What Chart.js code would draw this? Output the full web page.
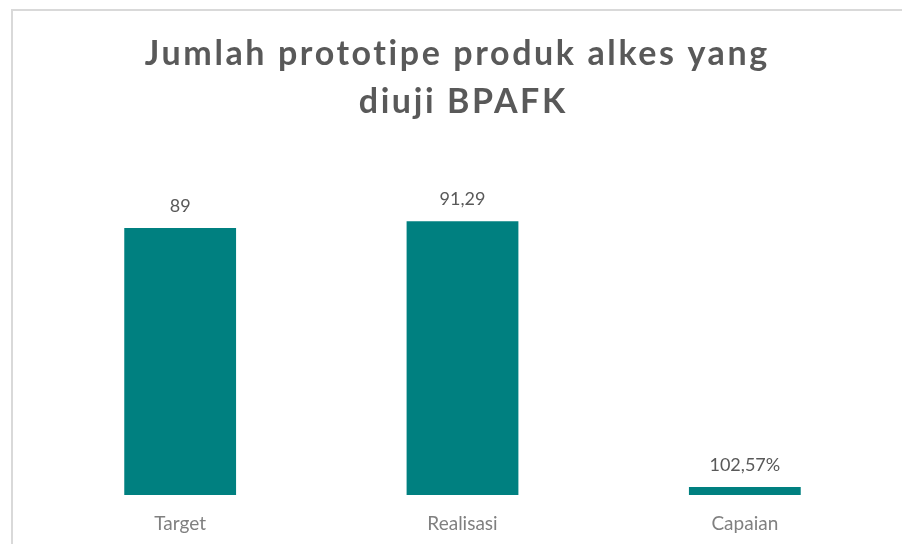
<!DOCTYPE html>
<html>
<head>
<meta charset="utf-8">
<script src="https://cdn.jsdelivr.net/npm/chart.js@4"></script>
<style>
  html, body { margin: 0; padding: 0; background: #fff; }
  #wrap { width: 902px; height: 544px; }
</style>
</head>
<body>
<div id="wrap"><canvas id="grafik"></canvas></div>
<script>
const kategori = ['Target', 'Realisasi', 'Capaian'];
const nilai = [89, 91.29, 2.65];
const labelNilai = ['89', '91,29', '102,57%'];
const judul = ['Jumlah prototipe produk alkes yang', 'diuji BPAFK'];

// bingkai abu-abu + judul dengan jarak huruf
const bingkai = {
    id: 'bingkai',
    beforeDraw(chart) {
        const c = chart.ctx;
        c.save();
        c.fillStyle = '#fff';
        c.fillRect(0, 0, chart.width, chart.height);
        c.strokeStyle = '#d9d9d9';
        c.lineWidth = 2;
        c.beginPath();
        c.moveTo(12, chart.height);
        c.lineTo(12, 10);
        c.lineTo(chart.width, 10);
        c.stroke();
        c.restore();
    },
    afterDraw(chart) {
        const c = chart.ctx;
        const spasi = 2.6;
        c.save();
        c.font = 'bold 34px Lato, "Open Sans", sans-serif';
        c.fillStyle = '#595959';
        c.textAlign = 'center';
        c.textBaseline = 'alphabetic';
        c.letterSpacing = spasi + 'px';
        c.fillText(judul[0], 456 + spasi / 2, 65);
        c.fillText(judul[1], 462 + spasi / 2, 113);
        c.restore();
    }
};

const labelAtas = {
    id: 'labelAtas',
    afterDatasetsDraw(chart) {
        const c = chart.ctx;
        const meta = chart.getDatasetMeta(0);
        c.save();
        c.font = '18px Lato, "Open Sans", sans-serif';
        c.fillStyle = '#595959';
        c.textAlign = 'center';
        c.textBaseline = 'middle';
        meta.data.forEach((bar, i) => {
            c.fillText(labelNilai[i], bar.x, bar.y - 22);
        });
        c.restore();
    }
};

new Chart(document.getElementById('grafik'), {
    type: 'bar',
    data: {
        labels: kategori,
        datasets: [{
            data: nilai,
            backgroundColor: '#008080',
            categoryPercentage: 1,
            barPercentage: 0.396
        }]
    },
    options: {
        responsive: true,
        maintainAspectRatio: false,
        animation: false,
        layout: {
            padding: { left: 39, right: 16, top: 195, bottom: 0 }
        },
        plugins: {
            legend: { display: false },
            tooltip: { enabled: false },
            title: { display: false }
        },
        scales: {
            x: {
                grid: { display: false },
                border: { display: false },
                afterFit(scale) { scale.height = 49; },
                ticks: {
                    color: '#808080',
                    padding: 9,
                    font: { family: 'Lato, "Open Sans", sans-serif', size: 19 }
                }
            },
            y: {
                display: false,
                min: 0,
                max: 100
            }
        }
    },
    plugins: [bingkai, labelAtas]
});
</script>
</body>
</html>
